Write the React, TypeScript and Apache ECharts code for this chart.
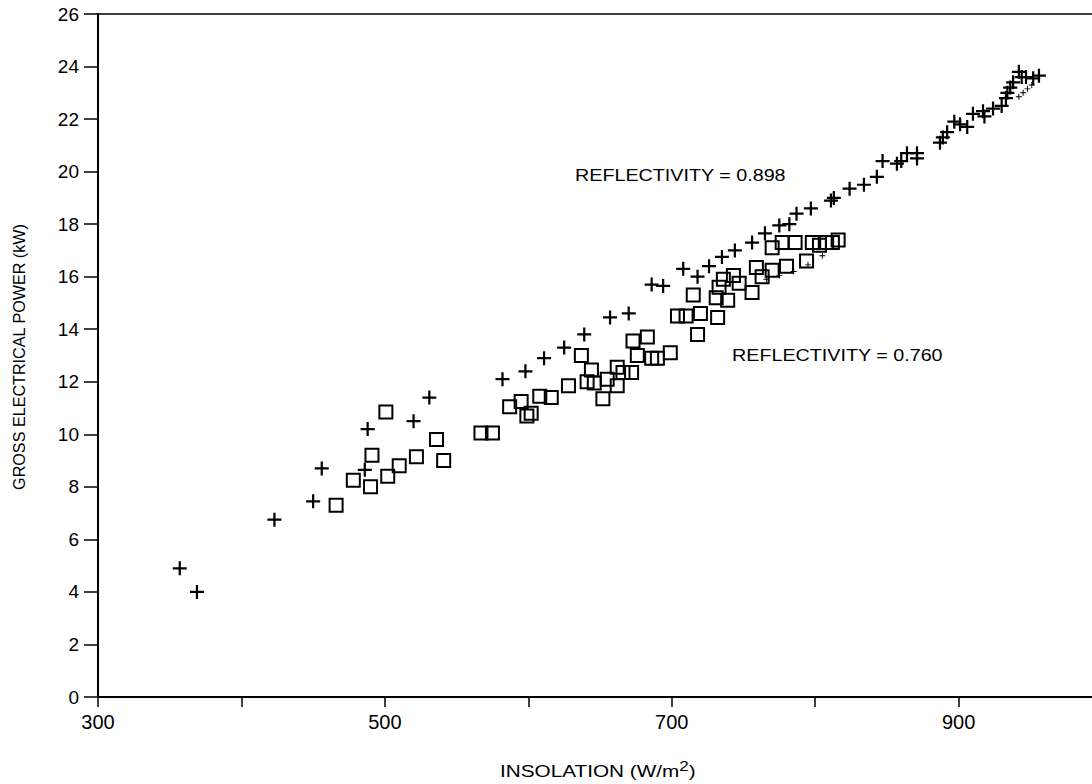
import React, { useEffect, useRef } from "react";
import * as echarts from "echarts";

// ---- data ----
const xTickValues = [300, 400, 500, 600, 700, 800, 900];
const xLabelValues = [300, 500, 700, 900];
const yTickValues = [0, 2, 4, 6, 8, 10, 12, 14, 16, 18, 20, 22, 24, 26];

// REFLECTIVITY = 0.898 (plus markers)
const plusPoints: [number, number][] = [
  [357, 4.9], [369, 4.0], [423, 6.75], [450, 7.45], [456, 8.7], [486, 8.65],
  [488, 10.2], [520, 10.5], [531, 11.4], [582, 12.1], [598, 12.4], [611, 12.9],
  [625, 13.3], [639, 13.8], [657, 14.45], [670, 14.6], [686, 15.7], [694, 15.65],
  [708, 16.3], [718, 16.0], [726, 16.4], [735, 16.75], [744, 17.0], [756, 17.3],
  [765, 17.65], [775, 17.95], [782, 18.0], [787, 18.4], [797, 18.6], [811, 18.9],
  [813, 19.0], [824, 19.35], [834, 19.5], [843, 19.8], [847, 20.4], [857, 20.3],
  [860, 20.4], [864, 20.7], [871, 20.7], [871, 20.5], [887, 21.1], [889, 21.3],
  [892, 21.5], [897, 21.9], [901, 21.8], [906, 21.7], [910, 22.2], [917, 22.3],
  [918, 22.1], [924, 22.4], [930, 22.5], [933, 22.8], [934, 23.0], [936, 23.2],
  [938, 23.4], [942, 23.8], [944, 23.6], [947, 23.6], [952, 23.55], [956, 23.65],
];

// REFLECTIVITY = 0.760 (square markers)
const squarePoints: [number, number][] = [
  [466, 7.3], [478, 8.25], [490, 8.0], [491, 9.2], [500.7, 10.85], [502, 8.4],
  [510, 8.8], [522, 9.15], [536, 9.8], [541, 9.0], [567, 10.05], [575, 10.05],
  [587, 11.05], [595, 11.25], [599, 10.7], [602, 10.8], [608, 11.45], [616, 11.4],
  [628, 11.85], [637, 13.0], [641, 12.0], [644, 12.45], [646, 11.95], [652, 11.35],
  [655, 12.1], [662, 12.55], [662, 11.85], [666, 12.35], [672, 12.35], [673, 13.55],
  [676, 13.0], [683, 13.7], [686, 12.9], [690, 12.9], [699, 13.1], [704, 14.5],
  [710, 14.5], [715, 15.3], [718, 13.8], [720, 14.6], [731, 15.2], [732, 14.45],
  [733, 15.6], [736, 15.9], [739, 15.1], [743, 16.05], [747, 15.75], [756, 15.4],
  [759, 16.35], [763, 16.0], [770, 17.1], [770, 16.25], [777, 17.3], [780, 16.4],
  [786, 17.3], [794, 16.6], [798, 17.3], [803, 17.2], [808, 17.3], [812, 17.3],
  [816, 17.4],
];

// faint broken trace marks
const tracePoints: [number, number][] = [
  [766, 15.9], [775, 16.05], [785, 16.2], [795, 16.45], [805, 16.8],
  [942, 22.85], [945, 23.0], [948, 23.15], [951, 23.3],
];

const annotations = [
  { text: "REFLECTIVITY = 0.898", x: 575, y: 175 },
  { text: "REFLECTIVITY = 0.760", x: 732, y: 355 },
];

const FONT = "'Liberation Sans', Arial, Helvetica, sans-serif";
const PLUS =
  "path://M0,4.2 H4.2 V0 H5.8 V4.2 H10 V5.8 H5.8 V10 H4.2 V5.8 H0 Z";

export default function App() {
  const ref = useRef<HTMLDivElement>(null);

  useEffect(() => {
    document.body.style.margin = "0";
    const chart = echarts.init(ref.current!, undefined, { renderer: "svg" });
    const option: any = {
      animation: false,
      backgroundColor: "#ffffff",
      textStyle: { fontFamily: FONT, color: "#000" },
      grid: { left: 98, right: 0, top: 14, bottom: 87, containLabel: false },
      xAxis: [
        {
          type: "value",
          position: "bottom",
          min: 300,
          max: 993,
          interval: 100,
          axisLine: { show: true, onZero: false, lineStyle: { color: "#000", width: 2 } },
          axisTick: {
            show: true,
            inside: false,
            length: 10,
            lineStyle: { color: "#000", width: 1.5 },
          },
          axisLabel: {
            show: true,
            margin: 15,
            fontSize: 20,
            color: "#000",
            fontFamily: FONT,
            showMaxLabel: false,
            formatter: (v: number) =>
              xLabelValues.includes(v) && xTickValues.includes(v) ? String(v) : "",
          },
          splitLine: { show: false },
        },
        {
          type: "value",
          position: "top",
          min: 300,
          max: 993,
          interval: 100,
          axisLine: { show: true, onZero: false, lineStyle: { color: "#000", width: 1.5 } },
          axisTick: { show: false },
          axisLabel: { show: false },
          splitLine: { show: false },
        },
      ],
      yAxis: {
        type: "value",
        min: 0,
        max: 26,
        interval: 2,
        axisLine: { show: true, onZero: false, lineStyle: { color: "#000", width: 2 } },
        axisTick: {
          show: true,
          inside: false,
          length: 14,
          lineStyle: { color: "#000", width: 1.5 },
        },
        axisLabel: {
          show: true,
          margin: 19,
          fontSize: 19,
          color: "#000",
          fontFamily: FONT,
          formatter: (v: number) => (yTickValues.includes(v) ? String(v) : ""),
        },
        splitLine: { show: false },
      },
      series: [
        {
          name: "REFLECTIVITY = 0.898",
          type: "scatter",
          xAxisIndex: 0,
          data: plusPoints,
          symbol: PLUS,
          symbolSize: 14,
          itemStyle: { color: "#000", opacity: 1 },
          z: 3,
        },
        {
          name: "REFLECTIVITY = 0.760",
          type: "scatter",
          xAxisIndex: 0,
          data: squarePoints,
          symbol: "rect",
          symbolSize: 13,
          itemStyle: {
            color: "rgba(255,255,255,0)",
            borderColor: "#000",
            borderWidth: 2,
            opacity: 1,
          },
          z: 2,
        },
        {
          name: "trace",
          type: "scatter",
          xAxisIndex: 0,
          data: tracePoints,
          symbol: PLUS,
          symbolSize: 6,
          itemStyle: { color: "#000", opacity: 1 },
          z: 2,
        },
      ],
      graphic: [
        ...annotations.map((a) => ({
          type: "text",
          x: a.x,
          y: a.y,
          scaleX: 1.16,
          style: {
            text: a.text,
            fontSize: 17,
            fontFamily: FONT,
            fill: "#000",
            textAlign: "left",
            textVerticalAlign: "middle",
          },
        })),
        {
          type: "text",
          x: 500,
          y: 771,
          scaleX: 1.22,
          style: {
            text: "INSOLATION (W/m{sup|2})",
            fontSize: 17,
            fontFamily: FONT,
            fill: "#000",
            textAlign: "left",
            textVerticalAlign: "middle",
            rich: {
              sup: { fontSize: 14, fontFamily: FONT, fill: "#000", padding: [0, 0, 10, 0] },
            },
          },
        },
        {
          type: "text",
          x: 19,
          y: 357,
          rotation: Math.PI / 2,
          scaleX: 0.95,
          style: {
            text: "GROSS ELECTRICAL POWER (kW)",
            fontSize: 17,
            fontFamily: FONT,
            fill: "#000",
            textAlign: "center",
            textVerticalAlign: "middle",
          },
        },
      ],
    };
    chart.setOption(option);
    return () => chart.dispose();
  }, []);

  return <div ref={ref} style={{ width: 1092, height: 784 }} />;
}
